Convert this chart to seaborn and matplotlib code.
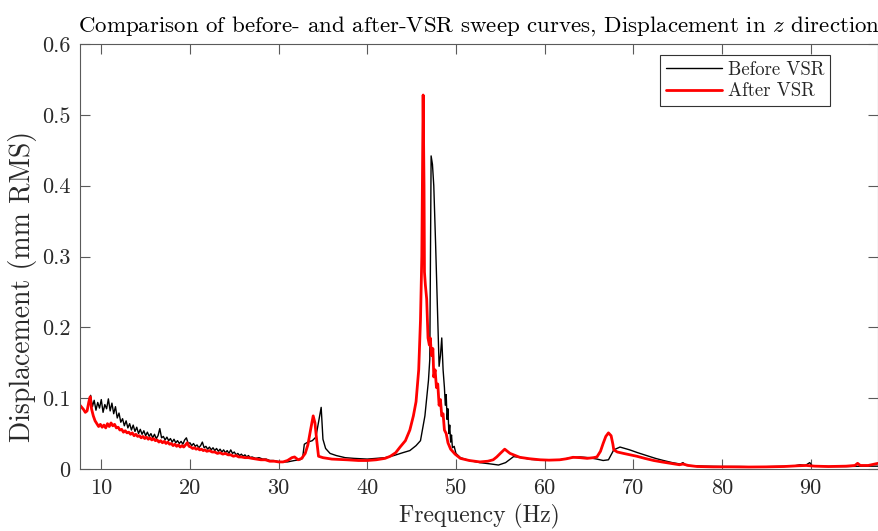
import numpy as np
import pandas as pd
import matplotlib
matplotlib.use("Agg")
import matplotlib.pyplot as plt
import seaborn as sns

# ---- data (frequency in Hz, displacement in mm RMS) ----
before_freq = [
    8.8, 9.0, 9.2, 9.4, 9.6, 9.8, 10.0, 10.2, 10.4, 10.6, 10.8, 11.0, 11.2, 11.4, 11.6, 11.8,
    12.0, 12.2, 12.4, 12.6, 12.8, 13.0, 13.2, 13.4, 13.6, 13.8, 14.0, 14.2, 14.4, 14.6, 14.8,
    15.0, 15.2, 15.4, 15.6, 15.8, 16.0, 16.2, 16.4, 16.6, 16.8, 17.0, 17.2, 17.4, 17.6, 17.8,
    18.0, 18.2, 18.4, 18.6, 18.8, 19.0, 19.2, 19.4, 19.6, 19.8, 20.0, 20.2, 20.4, 20.6, 20.8,
    21.0, 21.2, 21.4, 21.6, 21.8, 22.0, 22.2, 22.4, 22.6, 22.8, 23.0, 23.2, 23.4, 23.6, 23.8,
    24.0, 24.2, 24.4, 24.6, 24.8, 25.0, 25.2, 25.4, 25.6, 25.8, 26.0, 26.2, 26.4, 26.6, 26.8,
    27.0, 27.4, 27.8, 28.2, 28.6, 29.0, 29.4, 29.8, 30.2,
    31.0, 31.8, 32.4, 32.7, 32.9, 33.3, 33.8, 34.2, 34.5, 34.8, 35.0, 35.3, 35.8, 36.5, 37.5,
    38.5, 40.0, 41.0, 42.0, 43.0, 44.0, 44.8, 45.5, 46.0, 46.5, 46.9, 47.05, 47.12, 47.2, 47.35,
    47.5, 47.7, 47.9, 48.1, 48.25, 48.4, 48.55, 48.7, 48.8, 48.9, 49.0, 49.1, 49.2, 49.3, 49.4,
    49.5, 49.6, 49.8, 50.0, 50.5, 51.5, 52.7, 54.0, 54.8, 55.6, 56.5, 57.2, 58.5, 60.0, 61.5,
    63.0, 64.0, 65.0, 65.9, 66.6, 67.2, 67.8, 68.5, 69.6, 70.5, 71.5, 72.5, 73.4, 74.4, 75.3,
    75.6, 76.0, 78.0, 80.0, 82.0, 84.0, 86.0, 88.0, 88.8, 89.4, 89.9, 90.2, 92.0, 94.0, 96.0, 97.6,
]
before_disp = [
    0.104, 0.088, 0.097, 0.083, 0.094, 0.086, 0.098, 0.080, 0.091, 0.085, 0.099, 0.082, 0.093, 0.078, 0.088, 0.072,
    0.079, 0.066, 0.071, 0.061, 0.068, 0.058, 0.064, 0.055, 0.062, 0.053, 0.059, 0.050, 0.056, 0.049, 0.054,
    0.047, 0.052, 0.046, 0.050, 0.044, 0.049, 0.043, 0.047, 0.057, 0.044, 0.046, 0.041, 0.045, 0.040, 0.043,
    0.038, 0.042, 0.037, 0.040, 0.036, 0.039, 0.035, 0.041, 0.044, 0.036, 0.037, 0.033, 0.036, 0.032, 0.034,
    0.030, 0.033, 0.038, 0.030, 0.032, 0.028, 0.031, 0.027, 0.030, 0.026, 0.029, 0.025, 0.028, 0.024, 0.027,
    0.023, 0.026, 0.022, 0.027, 0.022, 0.024, 0.020, 0.022, 0.019, 0.021, 0.018, 0.020, 0.017, 0.019, 0.016,
    0.017, 0.015, 0.016, 0.014, 0.014, 0.012, 0.012, 0.011, 0.010,
    0.010, 0.012, 0.013, 0.015, 0.035, 0.038, 0.040, 0.045, 0.066, 0.087, 0.042, 0.029, 0.022, 0.019, 0.016,
    0.015, 0.014, 0.015, 0.016, 0.019, 0.023, 0.026, 0.033, 0.040, 0.075, 0.125, 0.155, 0.300, 0.442, 0.430,
    0.400, 0.320, 0.230, 0.145, 0.160, 0.185, 0.140, 0.115, 0.090, 0.105, 0.070, 0.085, 0.050, 0.062, 0.038,
    0.048, 0.030, 0.032, 0.022, 0.016, 0.012, 0.009, 0.007, 0.0056, 0.009, 0.0175, 0.0165, 0.0135, 0.0125, 0.0125,
    0.016, 0.017, 0.016, 0.014, 0.012, 0.013, 0.027, 0.031, 0.027, 0.023, 0.019, 0.015, 0.012, 0.009, 0.007,
    0.009, 0.005, 0.004, 0.0035, 0.0035, 0.003, 0.0035, 0.004, 0.006, 0.005, 0.009, 0.004, 0.0035, 0.0035, 0.004, 0.004,
]

after_freq = [
    7.6, 7.8, 8.0, 8.2, 8.4, 8.6, 8.75, 8.9, 9.1, 9.3, 9.5, 9.7, 9.9, 10.1, 10.3, 10.5, 10.7,
    10.9, 11.1, 11.3, 11.5, 11.7, 11.9, 12.1, 12.3, 12.5, 12.7, 12.9, 13.1, 13.3, 13.5, 13.7,
    13.9, 14.1, 14.3, 14.5, 14.7, 14.9, 15.1, 15.3, 15.5, 15.7, 15.9, 16.1, 16.3, 16.5, 16.7,
    16.9, 17.1, 17.3, 17.5, 17.7, 17.9, 18.1, 18.3, 18.5, 18.7, 18.9, 19.1, 19.3, 19.5, 19.7,
    19.9, 20.1, 20.3, 20.5, 20.7, 20.9, 21.1, 21.3, 21.5, 21.7, 21.9, 22.2, 22.5, 22.8, 23.1,
    23.4, 23.7, 24.0, 24.3, 24.6, 24.9, 25.2, 25.5, 25.8, 26.2, 26.6, 27.0, 27.5, 28.0, 28.5,
    29.0, 29.5, 30.0, 30.5, 31.0, 31.5, 31.8, 32.2, 32.6, 33.0, 33.3, 33.6, 33.9, 34.1, 34.3,
    34.5, 35.0, 36.0, 37.7, 39.0, 40.0, 41.0, 42.0, 42.6, 43.2, 43.7, 44.3, 44.8, 45.2, 45.5,
    45.8, 46.0, 46.15, 46.3, 46.4, 46.45, 46.55, 46.7, 46.85, 47.0, 47.1, 47.25, 47.4, 47.5,
    47.65, 47.8, 47.95, 48.1, 48.25, 48.4, 48.55, 48.7, 48.9, 49.1, 49.4, 49.9, 50.5, 51.5,
    52.7, 53.6, 54.2, 54.6, 55.0, 55.5, 56.1, 56.7, 57.2, 58.3, 59.5, 60.5, 61.7, 62.5, 63.2,
    64.0, 64.8, 65.5, 65.9, 66.3, 66.6, 66.9, 67.2, 67.5, 67.7, 67.8, 68.2, 68.9, 70.4, 71.3,
    72.3, 73.2, 74.2, 75.2, 75.6, 76.2, 77.2, 79.0, 81.0, 83.0, 85.0, 87.0, 88.5, 89.5, 90.5,
    92.0, 94.0, 95.0, 95.3, 95.6, 96.5, 97.6,
]
after_disp = [
    0.090, 0.087, 0.084, 0.080, 0.082, 0.095, 0.102, 0.085, 0.075, 0.068, 0.064, 0.060, 0.063, 0.059, 0.062, 0.058, 0.064,
    0.060, 0.065, 0.061, 0.063, 0.058, 0.059, 0.055, 0.056, 0.052, 0.054, 0.051, 0.052, 0.049, 0.051, 0.047,
    0.049, 0.046, 0.047, 0.044, 0.046, 0.043, 0.045, 0.042, 0.044, 0.041, 0.043, 0.040, 0.041, 0.038, 0.040,
    0.037, 0.039, 0.036, 0.038, 0.035, 0.036, 0.033, 0.035, 0.032, 0.034, 0.031, 0.033, 0.031, 0.034, 0.037,
    0.032, 0.031, 0.029, 0.030, 0.028, 0.029, 0.027, 0.028, 0.026, 0.027, 0.025, 0.026, 0.024, 0.024, 0.022,
    0.023, 0.021, 0.022, 0.020, 0.020, 0.018, 0.019, 0.017, 0.017, 0.016, 0.016, 0.015, 0.014, 0.013, 0.013,
    0.011, 0.011, 0.010, 0.010, 0.012, 0.016, 0.017, 0.013, 0.015, 0.022, 0.034, 0.055, 0.075, 0.065, 0.040,
    0.018, 0.016, 0.014, 0.013, 0.012, 0.012, 0.013, 0.015, 0.018, 0.023, 0.031, 0.040, 0.055, 0.075, 0.095,
    0.140, 0.210, 0.300, 0.528, 0.400, 0.278, 0.260, 0.240, 0.185, 0.175, 0.185, 0.160, 0.170, 0.130,
    0.140, 0.115, 0.120, 0.090, 0.098, 0.075, 0.078, 0.055, 0.050, 0.037, 0.028, 0.021, 0.015, 0.012,
    0.010, 0.011, 0.013, 0.017, 0.022, 0.028, 0.022, 0.019, 0.0165, 0.0145, 0.013, 0.0125, 0.013, 0.0145, 0.0165,
    0.016, 0.015, 0.016, 0.017, 0.025, 0.036, 0.046, 0.051, 0.047, 0.035, 0.027, 0.024, 0.022, 0.018, 0.015,
    0.012, 0.010, 0.008, 0.006, 0.007, 0.005, 0.0035, 0.003, 0.003, 0.0028, 0.003, 0.0035, 0.0045, 0.005, 0.004,
    0.0035, 0.004, 0.005, 0.008, 0.005, 0.005, 0.008,
]

series_labels = ["Before VSR", "After VSR"]
x_ticks = [10, 20, 30, 40, 50, 60, 70, 80, 90]
y_ticks = [0, 0.1, 0.2, 0.3, 0.4, 0.5, 0.6]

# ---- style ----
sns.set_style("white")
plt.rcParams["font.family"] = ["serif"]
plt.rcParams["font.serif"] = ["cmr10", "DejaVu Serif"]
plt.rcParams["mathtext.fontset"] = "cm"
plt.rcParams["axes.formatter.use_mathtext"] = True
plt.rcParams["axes.unicode_minus"] = False

axis_col = "#5a5a5a"
text_col = "#2a2a2a"

df_before = pd.DataFrame({"f": before_freq, "d": before_disp})
df_after = pd.DataFrame({"f": after_freq, "d": after_disp})

fig = plt.figure(figsize=(8.79, 5.31), dpi=100)
ax = fig.add_axes([80 / 879, 1 - 469 / 531, 798 / 879, 425 / 531])

sns.lineplot(data=df_before, x="f", y="d", ax=ax, color="black", linewidth=1.0,
             estimator=None, label=series_labels[0])
sns.lineplot(data=df_after, x="f", y="d", ax=ax, color="#ff0000", linewidth=2.0,
             estimator=None, label=series_labels[1])

ax.set_xlim(7.6, 97.6)
ax.set_ylim(0, 0.6)
ax.set_xticks(x_ticks)
ax.set_yticks(y_ticks)
ax.set_xticklabels([str(t) for t in x_ticks])
ax.set_yticklabels(["0"] + [f"{t:.1f}" for t in y_ticks[1:]])

ax.tick_params(direction="in", length=7, width=0.8, color=axis_col,
               labelsize=16, labelcolor=text_col, top=True, right=True,
               bottom=True, left=True, pad=7)
for s in ax.spines.values():
    s.set_visible(True)
    s.set_color(axis_col)
    s.set_linewidth(0.8)

ax.set_xlabel("Frequency (Hz)", fontsize=17, color=text_col, labelpad=4)
ax.set_ylabel("Displacement (mm RMS)", fontsize=20, color=text_col)
ax.yaxis.set_label_coords(-0.054, 0.43)
ax.set_title(r"Comparison of before- and after-VSR sweep curves, Displacement in $z$ direction",
             fontsize=16.5, color="black", pad=9)

leg = ax.legend(loc="upper right", bbox_to_anchor=(0.940, 0.974), fontsize=13.5,
                frameon=True, fancybox=False, framealpha=1, edgecolor="#333333",
                handlelength=3.0, handletextpad=0.3, borderpad=0.3, labelspacing=0.2,
                borderaxespad=0)
leg.get_frame().set_linewidth(0.8)

fig.savefig("out.png", dpi=100)
